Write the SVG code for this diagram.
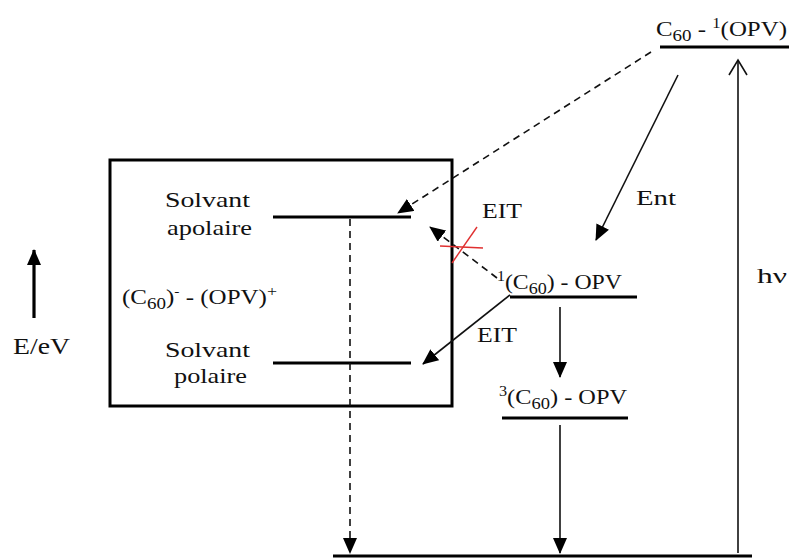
<svg xmlns="http://www.w3.org/2000/svg" width="789" height="558" viewBox="0 0 789 558">
<style>
  text { font-family: "Liberation Serif", "Times New Roman", serif; fill: #111; }
  .lbl { font-size: 22px; }
  .sm { font-size: 21px; }
  .lvl { stroke: #000; stroke-width: 3; fill: none; }
  .ln { stroke: #111; stroke-width: 1.6; fill: none; }
  .dash { stroke: #111; stroke-width: 1.6; fill: none; stroke-dasharray: 7 5; }
  .red { stroke: #e03030; stroke-width: 1.4; fill: none; }
</style>
<defs>
  <marker id="tri" markerUnits="userSpaceOnUse" markerWidth="16" markerHeight="14" viewBox="0 0 16 14" refX="15" refY="7" orient="auto">
    <path d="M0,0 L16,7 L0,14 Z" fill="#000"/>
  </marker>
  <marker id="open" markerUnits="userSpaceOnUse" markerWidth="18" markerHeight="22" viewBox="0 0 18 22" refX="16" refY="11" orient="auto">
    <path d="M1,2 L16,11 L1,20" fill="none" stroke="#111" stroke-width="1.6"/>
  </marker>
</defs>
<rect width="789" height="558" fill="#fff"/>

<g id="box">
  <rect x="110" y="160" width="342" height="246" fill="none" stroke="#000" stroke-width="3"/>
  <text class="lbl" x="165" y="207" textLength="85" lengthAdjust="spacingAndGlyphs">Solvant</text>
  <text class="lbl" x="167" y="235" textLength="85" lengthAdjust="spacingAndGlyphs">apolaire</text>
  <text class="lbl" x="165" y="357" textLength="85" lengthAdjust="spacingAndGlyphs">Solvant</text>
  <text class="lbl" x="174" y="383" textLength="73" lengthAdjust="spacingAndGlyphs">polaire</text>
  <text class="sm" x="122" y="304" textLength="155" lengthAdjust="spacingAndGlyphs">(C<tspan font-size="16" dy="5">60</tspan><tspan dy="-5">)</tspan><tspan font-size="13" dy="-8">-</tspan><tspan dy="8"> - (OPV)</tspan><tspan font-size="15" dy="-8">+</tspan></text>
</g>

<g id="apolaire">
  <line class="lvl" x1="273" y1="217" x2="411" y2="217"/>
</g>
<g id="polaire">
  <line class="lvl" x1="273" y1="363" x2="411" y2="363"/>
</g>

<g id="top-level">
  <line class="lvl" x1="660" y1="47" x2="789" y2="47"/>
  <text class="sm" x="656" y="36" textLength="131" lengthAdjust="spacingAndGlyphs">C<tspan font-size="16" dy="5">60</tspan><tspan dy="-5"> - </tspan><tspan font-size="14" dy="-8">1</tspan><tspan dy="8">(OPV)</tspan></text>
</g>

<g id="singlet">
  <line class="lvl" x1="510" y1="297" x2="637" y2="297"/>
  <text class="sm" x="497" y="289" textLength="125" lengthAdjust="spacingAndGlyphs"><tspan font-size="14" dy="-8">1</tspan><tspan dy="8">(C</tspan><tspan font-size="16" dy="5">60</tspan><tspan dy="-5">) - OPV</tspan></text>
</g>

<g id="triplet">
  <line class="lvl" x1="502" y1="418" x2="628" y2="418"/>
  <text class="sm" x="499" y="404" textLength="128" lengthAdjust="spacingAndGlyphs"><tspan font-size="14" dy="-8">3</tspan><tspan dy="8">(C</tspan><tspan font-size="16" dy="5">60</tspan><tspan dy="-5">) - OPV</tspan></text>
</g>

<g id="ground">
  <line class="lvl" x1="333" y1="556" x2="752" y2="556"/>
</g>

<g id="axis">
  <line x1="34" y1="318" x2="34" y2="250" stroke="#000" stroke-width="3.2" marker-end="url(#tri)"/>
  <text x="13" y="354" font-size="23" textLength="57" lengthAdjust="spacingAndGlyphs">E/eV</text>
</g>

<g id="connectors">
  <line class="dash" x1="651" y1="52" x2="398" y2="213" marker-end="url(#tri)"/>
  <line class="ln" x1="678" y1="75" x2="596" y2="240" marker-end="url(#tri)"/>
  <line class="dash" x1="497" y1="278" x2="430" y2="227" marker-end="url(#tri)"/>
  <line class="ln" x1="510" y1="295" x2="423" y2="364" marker-end="url(#tri)"/>
  <line class="ln" x1="560" y1="307" x2="560" y2="377" marker-end="url(#tri)"/>
  <line class="ln" x1="560" y1="425" x2="560" y2="553" marker-end="url(#tri)"/>
  <line class="dash" x1="350" y1="219" x2="350" y2="553" marker-end="url(#tri)"/>
  <line class="ln" x1="738" y1="553" x2="738" y2="60" marker-end="url(#open)"/>
  <line class="red" x1="440" y1="246" x2="483" y2="248"/>
  <line class="red" x1="452" y1="263" x2="477" y2="227"/>
  <text class="sm" x="482" y="218" textLength="40" lengthAdjust="spacingAndGlyphs">EIT</text>
  <text class="sm" x="477" y="342" textLength="40" lengthAdjust="spacingAndGlyphs">EIT</text>
  <text class="sm" x="636" y="205" textLength="40" lengthAdjust="spacingAndGlyphs">Ent</text>
  <text class="sm" x="757" y="283" textLength="30" lengthAdjust="spacingAndGlyphs">hν</text>
</g>
</svg>
